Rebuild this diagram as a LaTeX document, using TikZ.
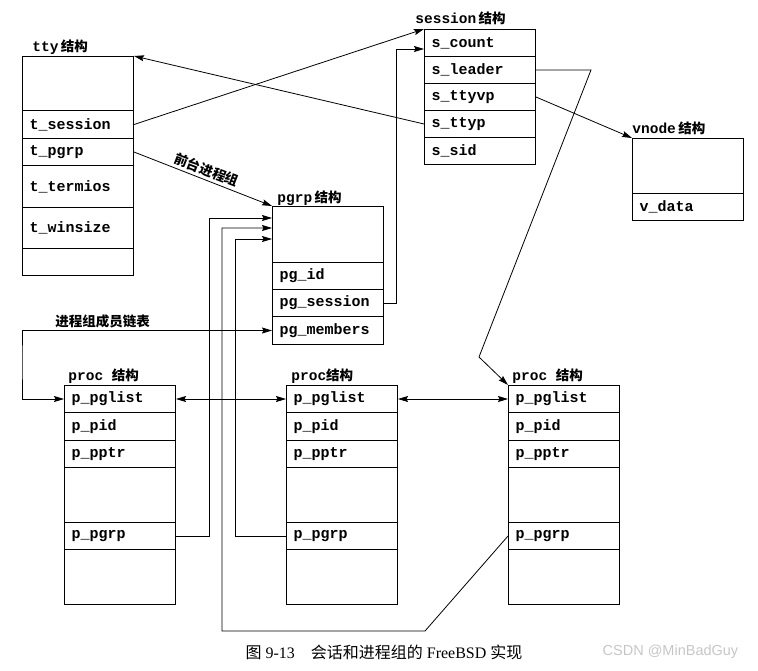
\documentclass[tikz,border=0pt]{standalone}
\usepackage{fontspec}
\setmainfont{Liberation Serif}
\setsansfont{Liberation Sans}
\setmonofont{Liberation Mono}
\newfontfamily\cjk{Noto Sans CJK SC}
\usetikzlibrary{arrows.meta}
\newcommand{\jg}{{\cjk\fontsize{13.5}{16}\selectfont 结构}}

\begin{document}
\begin{tikzpicture}[x=1pt,y=-1pt,>={Stealth[length=10pt,width=6pt,inset=1.5pt]},line width=0.8pt,
    fld/.style={draw,line width=1pt,anchor=north west,minimum height=27pt,inner xsep=7pt,inner ysep=0pt,
      text width=97pt,align=left,font=\fontsize{15}{16}\selectfont\ttfamily\bfseries},
    hd/.style={anchor=base west,inner sep=0pt,font=\fontsize{14.5}{16}\selectfont\ttfamily\bfseries},
    lbl/.style={inner sep=1pt,font=\cjk\bfseries\fontsize{13.5}{16}\selectfont}]
          \useasboundingbox (0,0) rectangle (758,670);
          % tty
          \node[hd] (ttyl) at (32,51) {tty\,\jg};
          \node[fld,minimum height=54pt] (tty1) at (22,56) {}; \node[fld,minimum
          height=28pt] (tty2) at (22,110) {t\_session}; \node[fld] (tty3) at
          (22,138) {t\_pgrp}; \node[fld,minimum height=42pt] (tty4) at (22,165)
          {t\_termios}; \node[fld,minimum height=41pt] (tty5) at (22,207)
          {t\_winsize}; \node[fld] (tty6) at (22,248) {};
          % session
          \node[hd] (sesl) at (415,23) {session\,\jg};
          \node[fld] (ses1) at (424,29) {s\_count}; \node[fld] (ses2) at
          (424,56) {s\_leader}; \node[fld] (ses3) at (424,83) {s\_ttyvp};
          \node[fld] (ses4) at (424,110) {s\_ttyp}; \node[fld] (ses5) at
          (424,137) {s\_sid};
          % vnode
          \node[hd] (vnl) at (632,133) {vnode\,\jg};
          \node[fld,minimum height=55pt] (vn1) at (632,138) {}; \node[fld]
          (vn2) at (632,193) {v\_data};
          % pgrp
          \node[hd] (pgl) at (277,202) {pgrp\,\jg};
          \node[fld,minimum height=56pt] (pg1) at (272,206) {}; \node[fld] (pg2)
          at (272,262) {pg\_id}; \node[fld] (pg3) at (272,289) {pg\_session};
          \node[fld,minimum height=28pt] (pg4) at (272,316) {pg\_members};
          % proc
          \node[hd] (pal) at (68,380) {proc\ \jg};
          \node[fld] (pa1) at (64,385) {p\_pglist}; \node[fld,minimum
          height=28pt] (pa2) at (64,412) {p\_pid}; \node[fld] (pa3) at (64,440)
          {p\_pptr}; \node[fld,minimum height=55pt] (pa4) at (64,467) {};
          \node[fld] (pa5) at (64,522) {p\_pgrp}; \node[fld,minimum height=55pt]
          (pa6) at (64,549) {};
          \node[hd] (pbl) at (291,380) {proc\jg};
          \node[fld] (pb1) at (286,385) {p\_pglist}; \node[fld,minimum
          height=28pt] (pb2) at (286,412) {p\_pid}; \node[fld] (pb3) at (286,440)
          {p\_pptr}; \node[fld,minimum height=55pt] (pb4) at (286,467) {};
          \node[fld] (pb5) at (286,522) {p\_pgrp}; \node[fld,minimum height=55pt]
          (pb6) at (286,549) {};
          \node[hd] (pcl) at (512,380) {proc\ \jg};
          \node[fld] (pc1) at (508,385) {p\_pglist}; \node[fld,minimum
          height=28pt] (pc2) at (508,412) {p\_pid}; \node[fld] (pc3) at (508,440)
          {p\_pptr}; \node[fld,minimum height=55pt] (pc4) at (508,467) {};
          \node[fld] (pc5) at (508,522) {p\_pgrp}; \node[fld,minimum height=55pt]
          (pc6) at (508,549) {};
          % bends
          \coordinate (b1) at (396,49); \coordinate (b2) at (591,70);
          \coordinate (b3) at (479,357); \coordinate (b4) at (22,360);
          \coordinate (b5) at (209,218); \coordinate (b6) at (222,228);
          \coordinate (b7) at (425,631); \coordinate (b8) at (235,239);
          % links
          \path (tty2.east) edge[->] (ses1.north west); \path (ses4.west)
          edge[->] (tty1.north east); \path (tty3.east) edge[->]
          node[midway,above=2pt,sloped,lbl] {前台进程组} (pg1.north west);
          \path (ses3.east) edge[->] (vn1.north west);
          \draw[->] (pg3.east) -| (b1) -- (ses1.west |- b1);
          \draw[->] (ses2.east) -- (b2) -- (b3) -- (pc1.north west);
          \draw[<->] (pg4.west) -| (b4) |- (pa1.west);
          \node[lbl,anchor=west] (lst) at (54,321) {进程组成员链表};
          \path (pa1.east) edge[<->] (pb1.west); \path (pb1.east) edge[<->]
          (pc1.west);
          \draw[->] (pa5.east) -| (b5) -- (pg1.west |- b5);
          \draw[->] (pc5.west) -- (b7) -| (b6) -- (pg1.west |- b6);
          \draw[->] (pb5.west) -| (b8) -- (pg1.west |- b8);
          % caption
          \node[font=\fontsize{16}{18}\selectfont] (cap) at (384,652)
          {{\cjk 图} 9-13\quad{\cjk 会话和进程组的} FreeBSD {\cjk 实现}};
          \node[anchor=east,text=gray!45,font=\sffamily\fontsize{14.5}{16}\selectfont]
          (wm) at (742,652) {CSDN @MinBadGuy};
        \end{tikzpicture}
\end{document}
